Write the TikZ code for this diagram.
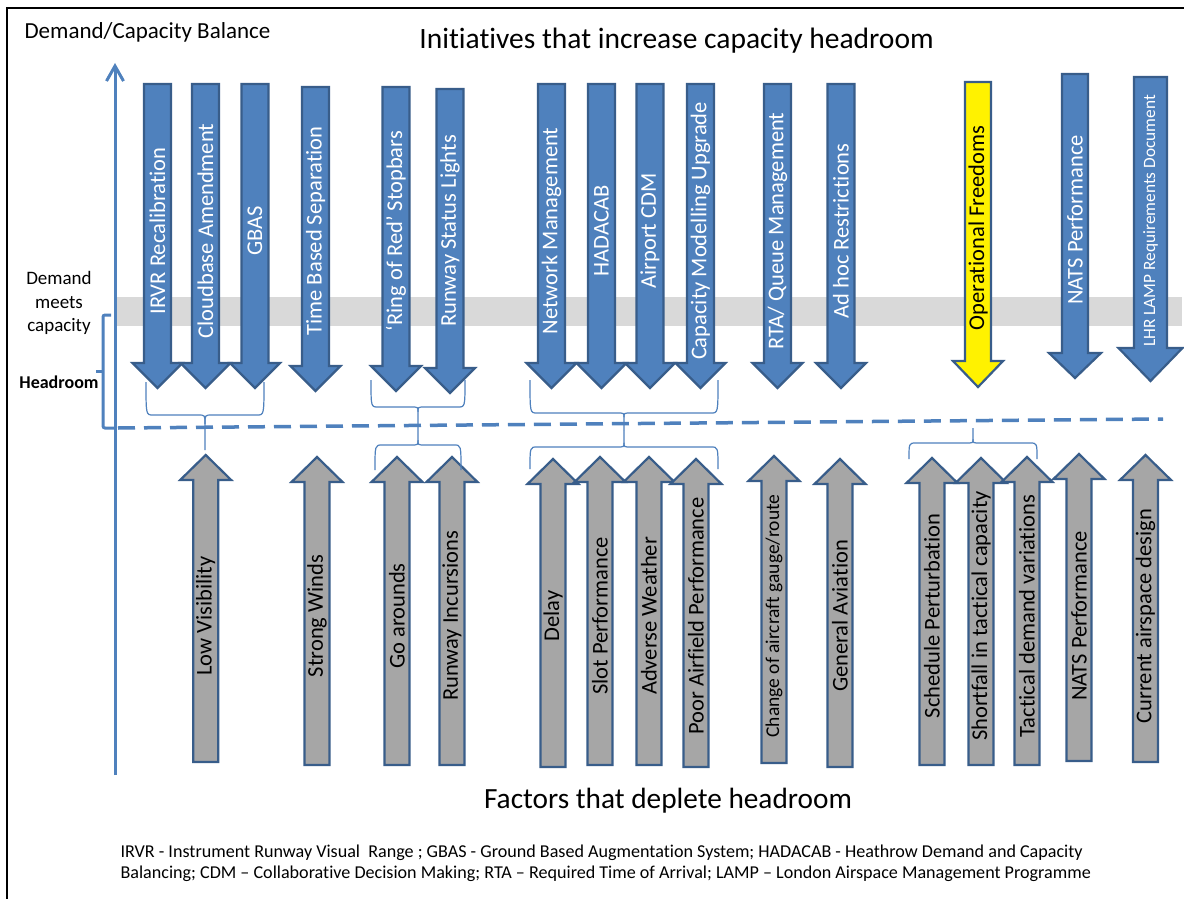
\documentclass[tikz,border=0pt]{standalone}
\usepackage{fontspec}
\setmainfont{Carlito}[Ligatures={NoCommon}]
\usepackage{tikz}
\usetikzlibrary{arrows.meta}
\definecolor{capblue}{RGB}{79,129,189}
\definecolor{capedge}{RGB}{56,93,138}
\definecolor{factgray}{RGB}{166,166,166}
\definecolor{bandgray}{RGB}{217,217,217}

% block arrow: centre x, shaft half width, head half width, back y, head base y, tip y
\newcommand{\blockarrow}[7][]{%
  \draw[#1] ({#2-#3},#5) -- ({#2+#3},#5) -- ({#2+#3},#6) -- ({#2+#4},#6)
    -- (#2,#7) -- ({#2-#4},#6) -- ({#2-#3},#6) -- cycle;}
% group brace: left x, right x, end y, bar y, tip y
\newcommand{\grpbrace}[5]{%
  \draw[grp] (#1,#3) .. controls (#1,#4) .. ({#1+7},#4) -- ({(#1+#2)/2-7},#4)
    .. controls ({(#1+#2)/2},#4) .. ({(#1+#2)/2},{#4+0.25*(#5-#4)}) -- ({(#1+#2)/2},#5);
  \draw[grp] (#2,#3) .. controls (#2,#4) .. ({#2-7},#4) -- ({(#1+#2)/2+7},#4)
    .. controls ({(#1+#2)/2},#4) .. ({(#1+#2)/2},{#4+0.25*(#5-#4)});}

\begin{document}
\begin{tikzpicture}[x=1pt, y=-1pt,
      dnarr/.style={fill=capblue, draw=capedge, line width=2.2pt},
      uparr/.style={fill=factgray, draw=capedge, line width=2.2pt},
      dnlbl/.style={rotate=90, text=white},
      uplbl/.style={rotate=90, text=black},
      grp/.style={capblue, line width=1.2pt},
      balline/.style={capblue, line width=3pt}]
    \useasboundingbox (0,0) rectangle (1184,899);
    \fill[white] (0,0) rectangle (1184,899);
    \draw[line width=2pt] (7,899) -- (7,8) -- (1184,8);

    % band where demand meets capacity
    \fill[bandgray] (117,297) rectangle (1182,326);

    % initiatives
    \foreach \c/\t/\p/\sz/\lbl [count=\i] in {
        157.5/84/388/22.5/IRVR Recalibration,
        205.5/84/388/22.5/Cloudbase Amendment,
        255/84/388/22.5/GBAS,
        315.5/87/391/22.5/Time Based Separation,
        396/87/391/22.5/‘Ring of Red’ Stopbars,
        450/89/393/22.5/Runway Status Lights,
        551.5/84/388/22.5/Network Management,
        601.5/84/388/22.5/HADACAB,
        650/84/388/22.5/Airport CDM,
        700.5/84/388/22.5/Capacity Modelling Upgrade,
        777.5/84/388/22.5/{RTA/ Queue Management},
        841/84/388/22.5/Ad hoc Restrictions} {
      \blockarrow[dnarr]{\c}{13.5}{25}{\t}{\p-25}{\p}
      \node[dnlbl, font=\fontsize{\sz}{\sz}\selectfont] (init\i) at (\c,231) {\lbl};
    }
    \blockarrow[dnarr, fill=yellow]{978}{13}{25}{82}{361}{387}
    \node[uplbl, font=\fontsize{22.5}{22.5}\selectfont] (opfree) at (978,228) {Operational Freedoms};
    \blockarrow[dnarr]{1075}{13}{26}{74}{353}{378}
    \node[dnlbl, font=\fontsize{22.5}{22.5}\selectfont] (natsup) at (1075,220) {NATS Performance};
    \blockarrow[dnarr]{1150.5}{16.5}{32}{77}{348}{381}
    \node[dnlbl, font=\fontsize{17.3}{17.3}\selectfont] (lamp) at (1150.5,221) {LHR LAMP Requirements Document};

    % factors
    \foreach \c/\b/\p/\sz/\lbl [count=\i] in {
        205.7/762/455/22.5/Low Visibility,
        317/765/457/22.5/Strong Winds,
        397/765/457/22.5/Go arounds,
        452/765/457/22.5/Runway Incursions,
        553/767/459/22.5/Delay,
        600/765/457/22.5/Slot Performance,
        649/765/457/22.5/Adverse Weather,
        696/767/459/22.5/Poor Airfield Performance,
        774/763/456/19.5/{Change of aircraft gauge/route},
        840/767/459/22.5/General Aviation,
        932/765/458/22.5/Schedule Perturbation,
        981/765/458/22.5/Shortfall in tactical capacity,
        1027/765/457/22.5/Tactical demand variations,
        1079/761/454/22.5/NATS Performance,
        1145.5/762/455/22.5/Current airspace design} {
      \blockarrow[uparr]{\c}{12.5}{25.5}{\b}{\p+25}{\p}
      \node[uplbl, font=\fontsize{\sz}{\sz}\selectfont] (fact\i) at (\c,616) {\lbl};
    }

    % headroom line and braces
    \draw[balline, line width=3.5pt, dash pattern=on 17pt off 9pt] (118,428) -- (1163,419);
    \grpbrace{146}{264}{382}{415}{450}
    \grpbrace{371}{465}{380}{407}{426}
    \grpbrace{375}{461}{470}{445}{426}
    \grpbrace{530}{718}{380}{413}{430}
    \grpbrace{530}{718}{469}{447}{430}
    \grpbrace{909}{1037}{459}{443}{428}

    \draw[balline, -{Straight Barb[length=15pt,width=17pt]}] (115,775) -- (115,63);
    \draw[balline, rounded corners=2pt] (111,315) -- (103,315) -- (103,428) -- (115,428);
    \draw[balline] (103,371.5) -- (96,371.5);

    \node[anchor=base west, font=\fontsize{23}{26}\selectfont] (balance) at (21,39) {Demand/Capacity Balance};
    \node[anchor=base, font=\fontsize{29.5}{32}\selectfont] (inithead) at (676.5,49) {Initiatives that increase capacity headroom};
    \node[anchor=base, font=\fontsize{29.3}{32}\selectfont] (facthead) at (668,808) {Factors that deplete headroom};
    \node[align=center, font=\fontsize{19}{23.5}\selectfont] (meets) at (59,303) {Demand\\meets\\capacity};
    \node[anchor=base, font=\bfseries\fontsize{18}{20}\selectfont] (headroom) at (59,388) {Headroom};

    \node[anchor=base west, font=\fontsize{18.1}{20}\selectfont] (key1) at (117,857) {IRVR - Instrument Runway Visual~ Range ; GBAS - Ground Based Augmentation System; HADACAB - Heathrow Demand and Capacity};
    \node[anchor=base west, font=\fontsize{18.1}{20}\selectfont] (key2) at (117,878) {Balancing; CDM – Collaborative Decision Making; RTA – Required Time of Arrival; LAMP – London Airspace Management Programme};
  \end{tikzpicture}
\end{document}
